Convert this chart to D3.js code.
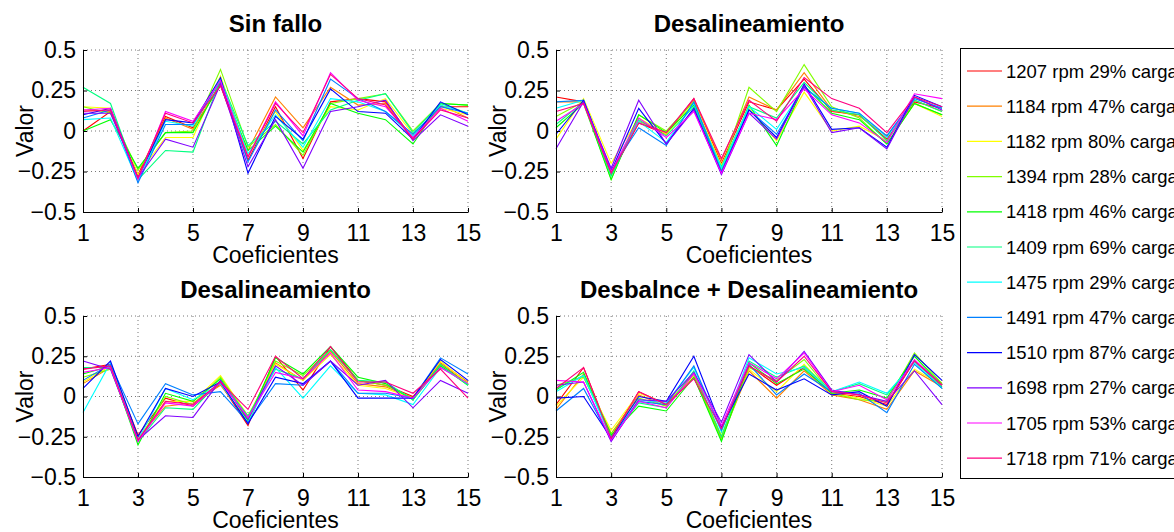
<!DOCTYPE html>
<html>
<head>
<meta charset="utf-8">
<script src="https://cdn.jsdelivr.net/npm/d3@7"></script>
<style>
  body { margin: 0; background: #fff; }
  text { font-family: "Liberation Sans", Arial, sans-serif; fill: #000; }
</style>
</head>
<body>
<svg id="canvas"></svg>
<script>
// coefficient index on x axis
const coefs = d3.range(1, 16)
const xTicks = [1, 3, 5, 7, 9, 11, 13, 15]
const yTicks = [-0.5, -0.25, 0, 0.25, 0.5]

const legendLabels = [
    "1207 rpm 29% carga", "1184 rpm 47% carga", "1182 rpm 80% carga", "1394 rpm 28% carga",
    "1418 rpm 46% carga", "1409 rpm 69% carga", "1475 rpm 29% carga", "1491 rpm 47% carga",
    "1510 rpm 87% carga", "1698 rpm 27% carga", "1705 rpm 53% carga", "1718 rpm 71% carga"
]

const titles = ["Sin fallo", "Desalineamiento", "Desalineamiento", "Desbalnce + Desalineamiento"]

// one row per speed/load condition, 15 coefficients each
const sinFallo = [
    [0.00, 0.12, -0.27, 0.09, 0.02, 0.28, -0.18, 0.15, -0.17, 0.18, 0.20, 0.18, -0.05, 0.15, 0.15],
    [0.13, 0.12, -0.28, 0.08, 0.01, 0.29, -0.12, 0.21, 0.02, 0.27, 0.16, 0.17, -0.04, 0.16, 0.08],
    [0.15, 0.14, -0.27, -0.04, -0.04, 0.34, -0.15, 0.12, -0.12, 0.15, 0.13, 0.20, -0.02, 0.14, 0.10],
    [0.15, 0.11, -0.24, -0.01, 0.00, 0.38, -0.10, 0.04, -0.15, 0.17, 0.20, 0.23, 0.00, 0.17, 0.16],
    [0.00, 0.07, -0.23, -0.01, -0.01, 0.30, -0.12, 0.03, -0.13, 0.17, 0.11, 0.07, -0.08, 0.17, 0.16],
    [0.27, 0.17, -0.30, -0.12, -0.13, 0.32, -0.09, 0.06, -0.08, 0.13, 0.19, 0.23, -0.01, 0.17, 0.11],
    [0.07, 0.08, -0.31, 0.06, 0.03, 0.32, -0.14, 0.10, -0.10, 0.20, 0.18, 0.12, -0.03, 0.16, 0.11],
    [0.08, 0.13, -0.32, 0.04, 0.04, 0.31, -0.19, 0.13, -0.06, 0.32, 0.20, 0.12, -0.02, 0.15, 0.11],
    [0.10, 0.14, -0.29, 0.07, 0.05, 0.33, -0.26, 0.09, -0.05, 0.26, 0.12, 0.11, -0.05, 0.18, 0.10],
    [0.11, 0.11, -0.29, -0.05, -0.10, 0.29, -0.22, 0.07, -0.23, 0.12, 0.15, 0.19, -0.06, 0.10, 0.03],
    [0.13, 0.14, -0.30, 0.12, 0.06, 0.31, -0.16, 0.18, -0.03, 0.36, 0.19, 0.15, -0.04, 0.14, 0.06],
    [0.12, 0.13, -0.29, 0.11, 0.05, 0.28, -0.16, 0.17, -0.01, 0.35, 0.20, 0.16, -0.05, 0.13, 0.08]
]

const desalineamientoA = [
    [0.21, 0.18, -0.27, 0.05, -0.02, 0.20, -0.20, 0.18, 0.13, 0.32, 0.12, 0.10, -0.05, 0.18, 0.14],
    [0.18, 0.18, -0.25, 0.06, -0.01, 0.19, -0.18, 0.21, 0.13, 0.36, 0.13, 0.09, -0.03, 0.19, 0.12],
    [-0.05, 0.20, -0.20, 0.08, -0.02, 0.17, -0.21, 0.14, -0.06, 0.24, 0.00, 0.03, -0.06, 0.17, 0.09],
    [0.09, 0.18, -0.30, 0.10, 0.00, 0.18, -0.24, 0.27, 0.12, 0.41, 0.15, 0.08, -0.08, 0.17, 0.10],
    [0.02, 0.17, -0.30, 0.10, -0.01, 0.16, -0.25, 0.16, -0.09, 0.28, 0.11, 0.07, -0.08, 0.17, 0.10],
    [0.04, 0.18, -0.28, 0.07, -0.03, 0.15, -0.22, 0.15, 0.08, 0.30, 0.13, 0.10, -0.06, 0.19, 0.12],
    [0.14, 0.19, -0.26, 0.06, -0.07, 0.17, -0.23, 0.15, 0.01, 0.27, 0.14, 0.11, -0.04, 0.20, 0.14],
    [0.18, 0.19, -0.24, 0.02, -0.09, 0.18, -0.25, 0.13, -0.02, 0.27, 0.14, 0.11, -0.03, 0.20, 0.14],
    [-0.02, 0.19, -0.25, 0.14, -0.08, 0.14, -0.26, 0.13, -0.04, 0.29, 0.01, 0.02, -0.10, 0.22, 0.15],
    [-0.11, 0.18, -0.23, 0.19, -0.08, 0.13, -0.27, 0.11, -0.05, 0.28, -0.01, 0.02, -0.11, 0.21, 0.13],
    [0.06, 0.17, -0.25, 0.08, -0.04, 0.12, -0.26, 0.11, 0.07, 0.26, 0.10, 0.05, -0.07, 0.23, 0.20],
    [0.12, 0.17, -0.26, 0.05, -0.01, 0.20, -0.17, 0.19, 0.06, 0.33, 0.20, 0.14, -0.01, 0.21, 0.15]
]

const desalineamientoB = [
    [0.17, 0.20, -0.24, -0.01, -0.06, 0.08, -0.18, 0.25, 0.04, 0.31, 0.10, 0.07, 0.00, 0.20, 0.08],
    [0.08, 0.18, -0.26, -0.06, -0.04, 0.07, -0.15, 0.21, 0.10, 0.28, 0.08, 0.06, -0.01, 0.21, 0.09],
    [0.09, 0.19, -0.26, -0.03, -0.03, 0.13, -0.12, 0.20, 0.10, 0.26, 0.07, 0.05, -0.01, 0.22, 0.08],
    [0.12, 0.17, -0.28, 0.00, -0.05, 0.12, -0.13, 0.22, 0.13, 0.29, 0.10, 0.07, -0.01, 0.19, 0.08],
    [0.14, 0.19, -0.30, 0.02, -0.03, 0.11, -0.15, 0.24, 0.14, 0.31, 0.12, 0.08, -0.02, 0.19, 0.07],
    [0.18, 0.18, -0.28, -0.07, -0.08, 0.10, -0.12, 0.17, 0.11, 0.29, 0.10, 0.09, -0.02, 0.20, 0.07],
    [-0.10, 0.21, -0.27, 0.05, -0.02, 0.08, -0.16, 0.18, -0.01, 0.19, 0.02, 0.01, -0.05, 0.18, 0.08],
    [0.10, 0.20, -0.17, 0.08, 0.01, 0.03, -0.16, 0.08, 0.07, 0.22, 0.02, 0.02, -0.01, 0.24, 0.14],
    [0.05, 0.22, -0.25, 0.05, 0.00, 0.09, -0.17, 0.12, 0.08, 0.22, -0.01, -0.01, -0.01, 0.23, 0.10],
    [0.22, 0.17, -0.27, -0.12, -0.13, 0.10, -0.14, 0.19, 0.07, 0.22, 0.07, 0.10, -0.07, 0.10, 0.02],
    [0.15, 0.18, -0.28, -0.04, -0.06, 0.09, -0.13, 0.15, 0.11, 0.27, 0.04, 0.03, -0.01, 0.18, 0.08],
    [0.17, 0.19, -0.27, -0.03, -0.05, 0.09, -0.08, 0.25, 0.11, 0.31, 0.09, 0.09, 0.02, 0.17, -0.01]
]

const desbalanceDesal = [
    [-0.05, 0.18, -0.25, 0.03, -0.05, 0.14, -0.25, 0.19, 0.07, 0.18, 0.02, 0.00, -0.05, 0.22, 0.08],
    [-0.08, 0.14, -0.23, 0.01, -0.06, 0.12, -0.26, 0.16, -0.01, 0.16, 0.01, -0.02, -0.08, 0.16, 0.06],
    [-0.06, 0.12, -0.21, 0.02, -0.04, 0.13, -0.24, 0.17, 0.03, 0.20, 0.02, -0.01, -0.06, 0.17, 0.07],
    [0.07, 0.12, -0.23, -0.01, -0.06, 0.14, -0.27, 0.18, 0.10, 0.23, 0.02, -0.02, -0.03, 0.27, 0.08],
    [0.04, 0.15, -0.24, -0.06, -0.09, 0.12, -0.28, 0.21, 0.08, 0.17, 0.02, 0.04, -0.01, 0.25, 0.07],
    [0.05, 0.13, -0.25, -0.04, -0.07, 0.16, -0.25, 0.22, 0.12, 0.19, 0.03, 0.08, 0.01, 0.22, 0.06],
    [0.03, 0.13, -0.26, -0.02, -0.04, 0.18, -0.22, 0.24, 0.14, 0.18, 0.03, 0.09, 0.02, 0.21, 0.05],
    [-0.09, 0.05, -0.27, -0.03, -0.05, 0.19, -0.21, 0.20, 0.01, 0.14, 0.03, 0.02, -0.10, 0.20, 0.05],
    [-0.01, 0.00, -0.26, 0.00, -0.03, 0.25, -0.19, 0.14, 0.04, 0.11, 0.01, 0.03, -0.06, 0.26, 0.10],
    [0.07, 0.09, -0.28, -0.02, -0.03, 0.15, -0.16, 0.26, 0.09, 0.28, 0.04, 0.01, -0.03, 0.16, -0.05],
    [0.10, 0.09, -0.27, -0.03, -0.07, 0.14, -0.18, 0.21, 0.11, 0.27, 0.03, 0.07, -0.02, 0.23, 0.07],
    [0.05, 0.18, -0.26, 0.03, -0.05, 0.11, -0.20, 0.19, 0.09, 0.25, 0.03, 0.01, -0.04, 0.22, 0.07]
]

const panelData = [sinFallo, desalineamientoA, desalineamientoB, desbalanceDesal]

// matlab hsv(12)
const colors = ["#ff0000", "#ff8000", "#ffff00", "#80ff00", "#00ff00", "#00ff80",
                "#00ffff", "#0080ff", "#0000ff", "#8000ff", "#ff00ff", "#ff0080"]

const width = 1174
const height = 532

// plot box of each subplot
const panels = [
    { left: 83, right: 468, top: 50, bottom: 212 },
    { left: 556, right: 942, top: 50, bottom: 212 },
    { left: 83, right: 468, top: 316, bottom: 477 },
    { left: 556, right: 942, top: 316, bottom: 477 }
]

let canvas = d3.select("#canvas")
canvas.attr("width", width).attr("height", height)

let fmt = (d) => (d < 0 ? "\u2212" : "") + Math.abs(d)

let drawPanel = (p, i) => {
    let xScale = d3.scaleLinear().domain([1, 15]).range([p.left, p.right])
    let yScale = d3.scaleLinear().domain([-0.5, 0.5]).range([p.bottom, p.top])

    let g = canvas.append("g").attr("class", "panel")

    // dotted grid
    g.selectAll(".vgrid")
        .data(xTicks.slice(1))
        .enter()
        .append("line")
        .attr("x1", (d) => xScale(d)).attr("x2", (d) => xScale(d))
        .attr("y1", p.top).attr("y2", p.bottom)
        .attr("stroke", "#777").attr("stroke-width", 1)
        .attr("stroke-dasharray", "1,3")
    g.selectAll(".hgrid")
        .data(yTicks.slice(1))
        .enter()
        .append("line")
        .attr("x1", p.left).attr("x2", p.right)
        .attr("y1", (d) => yScale(d)).attr("y2", (d) => yScale(d))
        .attr("stroke", "#777").attr("stroke-width", 1)
        .attr("stroke-dasharray", "1,3")

    let line = d3.line()
        .x((d, k) => xScale(coefs[k]))
        .y((d) => yScale(d))

    g.selectAll(".series")
        .data(panelData[i])
        .enter()
        .append("path")
        .attr("d", line)
        .attr("fill", "none")
        .attr("stroke", (d, k) => colors[k])
        .attr("stroke-width", 1.1)

    let xAxis = d3.axisBottom(xScale).tickValues(xTicks).tickSizeInner(-4).tickSizeOuter(0).tickPadding(13)
    let yAxis = d3.axisLeft(yScale).tickValues(yTicks).tickFormat(fmt).tickSizeInner(-4).tickSizeOuter(0).tickPadding(7)

    let gx = g.append("g")
        .attr("transform", `translate(0, ${p.bottom})`)
        .call(xAxis)
    let gy = g.append("g")
        .attr("transform", `translate(${p.left}, 0)`)
        .call(yAxis)

    g.selectAll(".domain").attr("stroke", "#000")
    g.selectAll(".tick line").attr("stroke", "#000")
    g.selectAll(".tick text")
        .attr("font-size", 23)
        .attr("font-family", "'Liberation Sans', Arial, sans-serif")
        .attr("fill", "#000")

    let cx = (p.left + p.right) / 2
    g.append("text")
        .attr("x", cx).attr("y", p.top - 18)
        .attr("text-anchor", "middle")
        .attr("font-size", 24).attr("font-weight", "bold")
        .text(titles[i])

    g.append("text")
        .attr("x", cx).attr("y", p.bottom + 51)
        .attr("text-anchor", "middle")
        .attr("font-size", 23)
        .text("Coeficientes")

    g.append("text")
        .attr("transform", `translate(${p.left - 50}, ${(p.top + p.bottom) / 2}) rotate(-90)`)
        .attr("text-anchor", "middle")
        .attr("font-size", 23)
        .text("Valor")
}

let drawLegend = () => {
    let lg = canvas.append("g").attr("class", "legend")
    lg.append("rect")
        .attr("x", 960.5).attr("y", 48.5)
        .attr("width", 240).attr("height", 430)
        .attr("fill", "#fff").attr("stroke", "#000").attr("stroke-width", 1)

    let item = lg.selectAll(".item")
        .data(legendLabels)
        .enter()
        .append("g")
        .attr("transform", (d, k) => `translate(0, ${71 + k * 35.2})`)

    item.append("line")
        .attr("x1", 967).attr("x2", 1002)
        .attr("y1", 0).attr("y2", 0)
        .attr("stroke", (d, k) => colors[k])
        .attr("stroke-width", 1.2)

    item.append("text")
        .attr("x", 1006).attr("y", 6.5)
        .attr("font-size", 18.5)
        .text((d) => d)
}

panels.forEach(drawPanel)
drawLegend()
</script>
</body>
</html>
